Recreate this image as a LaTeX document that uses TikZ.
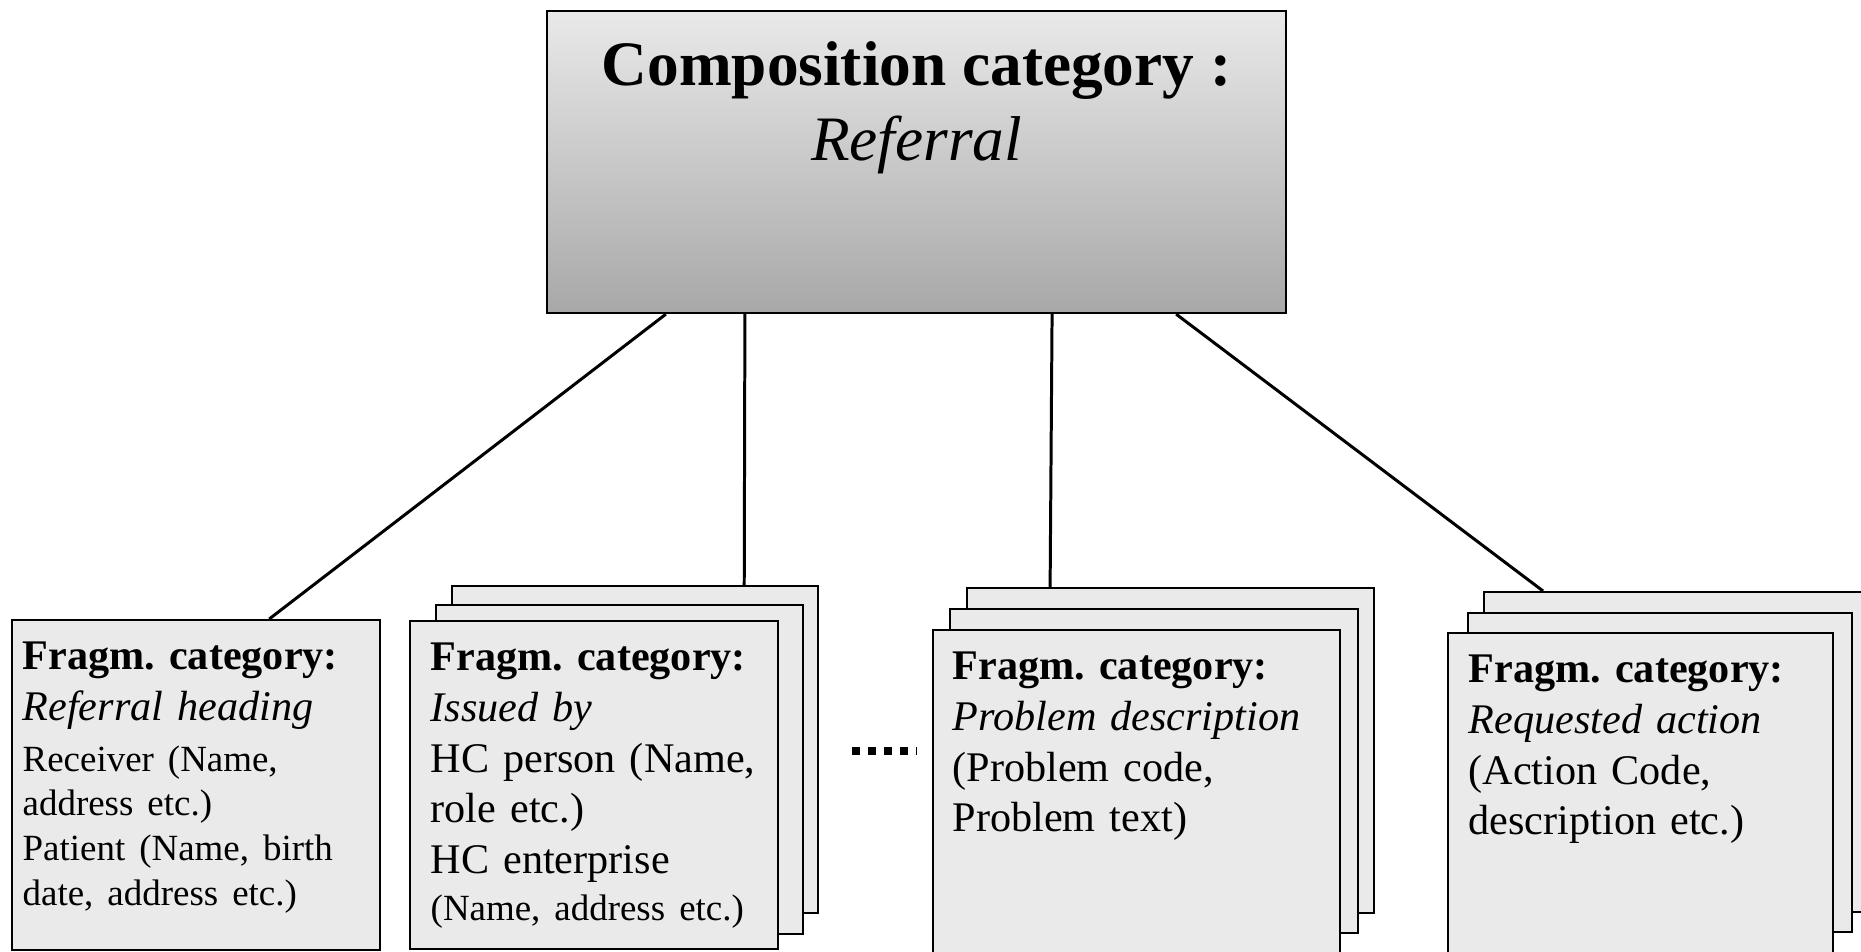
\documentclass[tikz,border=0pt]{standalone}
\usepackage{fontspec}
\setmainfont{Liberation Serif}
\usepackage{tikz}
\usetikzlibrary{positioning}
\setlength{\parindent}{0pt}
\frenchspacing
\definecolor{cardgray}{HTML}{EAEAEA}
\definecolor{headtop}{HTML}{E9E9E9}
\definecolor{headbottom}{HTML}{A8A8A8}
\pgfdeclarelayer{nodelayer}
\pgfdeclarelayer{edgelayer}
\pgfsetlayers{edgelayer,nodelayer,main}
\tikzstyle{none}=[inner sep=0pt]
\tikzstyle{headbox}=[draw=black, line width=0.6pt, top color=headtop, bottom color=headbottom, minimum width=7.39cm, minimum height=3.02cm]
\tikzset{card/.style={draw=black, line width=0.6pt, fill=cardgray, anchor=north west, inner sep=0pt}}
\tikzset{cardtext/.style={anchor=north west, inner sep=0pt, text width=3.8cm, align=left, font=\fontsize{12}{14.4}\selectfont}}
\tikzset{link/.style={line width=0.85pt}}
\tikzset{dotline/.style={line width=0.08cm, dash pattern=on 0.08cm off 0.08cm}}

\begin{document}
\begin{tikzpicture}[x=0.01cm, y=-0.01cm]
        \useasboundingbox (0,0) rectangle (1861,951);
        \begin{pgfonlayer}{nodelayer}
            \node [headbox] (0) at (916.5, 162) {};
            \node [none, below=0.31cm of 0.north, align=center, font=\fontsize{18}{21.2}\selectfont] (1) {\textbf{Composition category :}\\\textit{Referral}};
            % single fragment
            \node [card, minimum width=3.68cm, minimum height=3.30cm] (2) at (11, 619) {};
            % stacks, back to front
            \node [card, minimum width=3.66cm, minimum height=3.27cm] (3) at (451, 585) {};
            \node [card, minimum width=3.67cm, minimum height=3.29cm] (4) at (435, 604) {};
            \node [card, minimum width=3.68cm, minimum height=3.28cm] (5) at (409, 620) {};
            \node [card, minimum width=4.07cm, minimum height=3.25cm] (6) at (966, 587) {};
            \node [card, minimum width=4.08cm, minimum height=3.24cm] (7) at (949, 608) {};
            \node [card, minimum width=4.07cm, minimum height=3.30cm] (8) at (932, 629) {};
            \node [card, minimum width=3.85cm, minimum height=3.20cm] (9) at (1483, 591) {};
            \node [card, minimum width=3.84cm, minimum height=3.19cm] (10) at (1467, 612) {};
            \node [card, minimum width=3.85cm, minimum height=3.30cm] (11) at (1447, 632) {};
            \node [cardtext, below right=0.224cm and 0.11cm of 2.north west] (12) {\textbf{Fragm. category:}\\\textit{Referral heading}\par\vspace{1.7pt}{\fontsize{10.5}{12.7}\selectfont Receiver (Name,\\address etc.)\\Patient (Name, birth\\date, address etc.)\par}};
            \node [cardtext, below right=0.224cm and 0.21cm of 5.north west] (13) {\textbf{Fragm. category:}\\\textit{Issued by}\\HC person (Name,\\role etc.)\\HC enterprise\par{\fontsize{10.5}{13.3}\selectfont (Name, address etc.)\par}};
            \node [cardtext, below right=0.224cm and 0.20cm of 8.north west] (14) {\textbf{Fragm. category:}\\\textit{Problem description}\\(Problem code,\\Problem text)};
            \node [cardtext, below right=0.224cm and 0.21cm of 11.north west] (15) {\textbf{Fragm. category:}\\\textit{Requested action}\\(Action Code,\\description etc.)};
            \coordinate (16) at (852, 751);
            \coordinate (17) at (917, 751);
        \end{pgfonlayer}
        \begin{pgfonlayer}{edgelayer}
            \draw [link] ([xshift=-2.505cm]0.south) to ([xshift=0.73cm]2.north);
            \draw [link] ([xshift=-1.715cm]0.south) to ([xshift=1.09cm]3.north);
            \draw [link] ([xshift=1.355cm]0.south) to ([xshift=-1.205cm]6.north);
            \draw [link] ([xshift=2.595cm]0.south) to ([xshift=0.6cm]9.north west);
            \draw [dotline] (16) to (17);
        \end{pgfonlayer}
\end{tikzpicture}
\end{document}
